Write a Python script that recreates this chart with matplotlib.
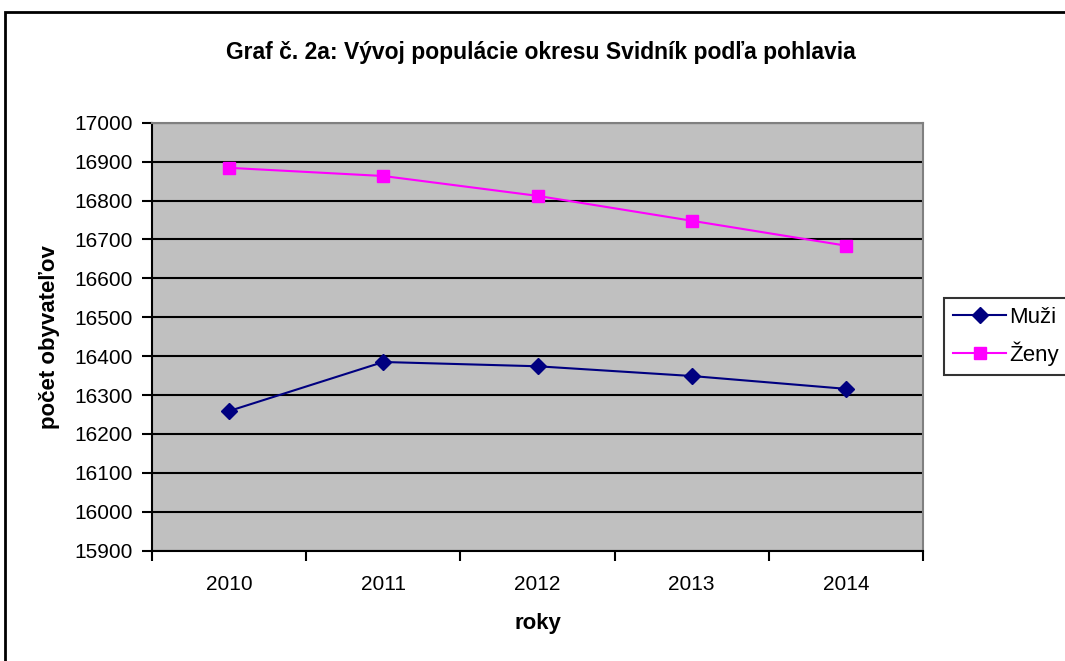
import numpy as np
import matplotlib.pyplot as plt
from matplotlib.patches import Rectangle

plt.rcParams['font.family'] = ['Liberation Sans', 'DejaVu Sans']

######## Daten ########
roky = ['2010', '2011', '2012', '2013', '2014']
muzi = [16259, 16385, 16374, 16349, 16316]
zeny = [16884, 16863, 16812, 16748, 16684]
y_ticks = np.arange(15900, 17001, 100)

W, H = 1065, 661
fig = plt.figure(figsize=(W/100, H/100), dpi=100)

# ramik okolo grafu (vpravo a dole je odrezany)
fig.patches.append(Rectangle((5/W, -0.1), 1.2, 1.1-12/H, transform=fig.transFigure,
                             fill=False, edgecolor='black', linewidth=2))

ax = fig.add_axes([152/W, 1-550.7/H, (923-152)/W, (550.7-122.7)/H])
ax.set_facecolor('#C0C0C0')

x = np.arange(len(roky))
ax.plot(x, muzi, '-', color='#000080', marker='D', markersize=8, linewidth=1.5, label='Muži', zorder=3)
ax.plot(x, zeny, '-', color='#FF00FF', marker='s', markersize=8, linewidth=1.5, label='Ženy', zorder=3)

ax.set_ylim(15900, 17000)
ax.set_yticks(y_ticks)
ax.set_xlim(-0.5, len(roky)-0.5)
ax.set_xticks(np.arange(len(roky)+1)-0.5)
ax.set_xticklabels([])
ax.set_xticks(x, minor=True)
ax.set_xticklabels(roky, minor=True)
ax.tick_params(axis='x', which='major', direction='out', length=7, width=1.5, color='black')
ax.tick_params(axis='x', which='minor', length=0, pad=17.5, labelsize=15)
ax.tick_params(axis='y', direction='out', length=7, width=1.5, color='black', labelsize=15, pad=7)

ax.yaxis.grid(True, color='black', linewidth=1.5)
ax.set_axisbelow(True)

for s in ['left', 'bottom']:
    ax.spines[s].set_color('black')
    ax.spines[s].set_linewidth(1.5)
for s in ['top', 'right']:
    ax.spines[s].set_color('#808080')
    ax.spines[s].set_linewidth(1.5)

ax.set_xlabel('roky', fontsize=16, fontweight='bold', va='center')
ax.xaxis.set_label_coords(0.5, (550.7-624)/428)
ax.set_ylabel('počet obyvateľov', fontsize=16, fontweight='bold', va='center')
ax.yaxis.set_label_coords((50-152)/771, 0.5)
fig.text(541/W, 1-52/H, 'Graf č. 2a: Vývoj populácie okresu Svidník podľa pohlavia',
         ha='center', va='center', fontsize=16.5, fontweight='bold')

leg = ax.legend(loc='upper left', bbox_to_anchor=(944/W, 1-298/H), bbox_transform=fig.transFigure,
                fontsize=16, frameon=True, fancybox=False, borderpad=0.4, handlelength=2.4,
                handletextpad=0.15, labelspacing=0.6, borderaxespad=0)
leg.get_frame().set_edgecolor('black')
leg.get_frame().set_linewidth(1.5)

fig.savefig('out.png', dpi=100)
